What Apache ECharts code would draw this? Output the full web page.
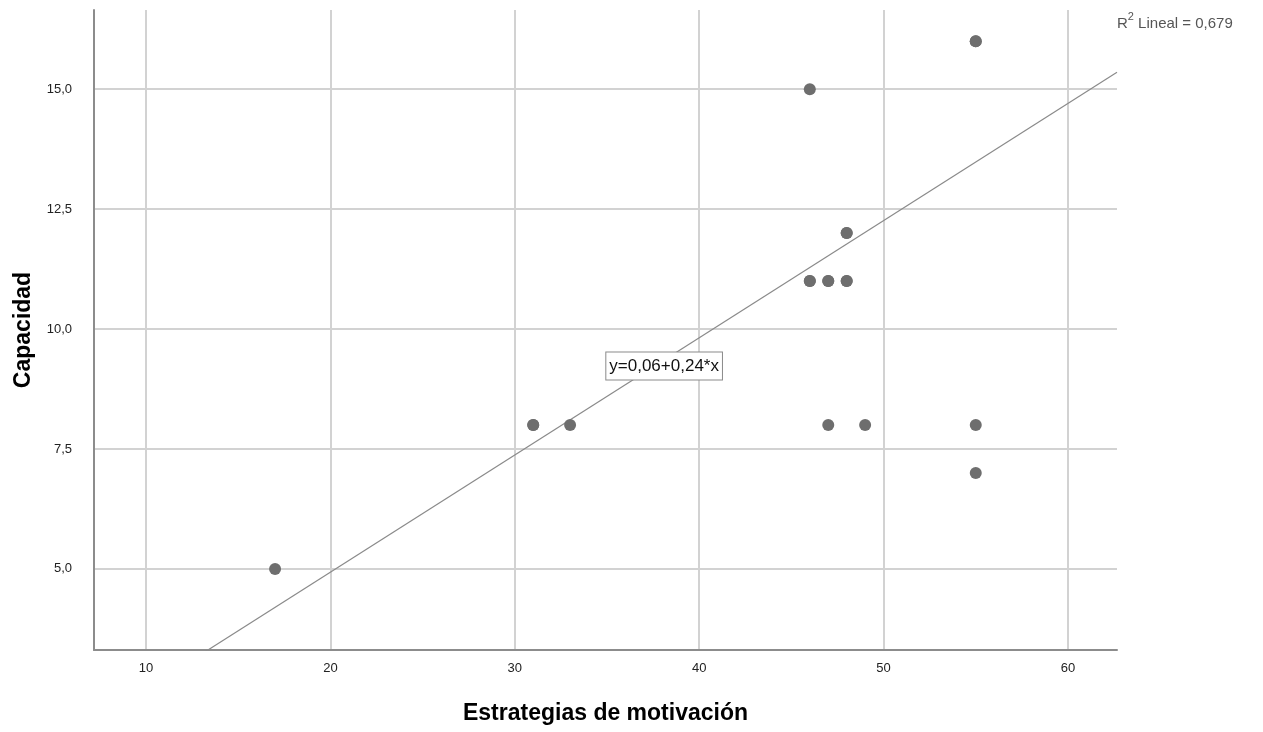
<!DOCTYPE html>
<html>
<head>
<meta charset="utf-8">
<script src="https://cdn.jsdelivr.net/npm/echarts@6/dist/echarts.min.js"></script>
<style>html,body{margin:0;padding:0;background:#fff;}#c{width:1263px;height:732px;}</style>
</head>
<body>
<div id="c"></div>
<script>
// Data
const xValues = [17, 31, 31, 33, 46, 46, 46, 47, 47, 47, 48, 48, 48, 48, 49, 55, 55, 55, 55];
const yValues = [5, 8, 8, 8, 15, 11, 11, 11, 11, 8, 11, 11, 12, 12, 8, 16, 16, 8, 7];
const fitIntercept = 0.046;
const fitSlope = 0.2443;
const fitLabel = 'y=0,06+0,24*x';
const fitLabelPos = [38.1, 9.23];
const r2Label = 'Lineal = 0,679';
const xTicks = [10, 20, 30, 40, 50, 60];
const yTicks = [5.0, 7.5, 10.0, 12.5, 15.0];
const xTitle = 'Estrategias de motivación';
const yTitle = 'Capacidad';

const xMin = 7.18, xMax = 62.66, yMin = 3.31, yMax = 16.65;
const points = xValues.map((x, i) => [x, yValues[i]]);
const fitLine = [[xMin, fitIntercept + fitSlope * xMin], [xMax, fitIntercept + fitSlope * xMax]];

const chart = echarts.init(document.getElementById('c'), null, {renderer: 'canvas'});
const fmt = v => String(v.toFixed(1)).replace('.', ',');
chart.setOption({
  animation: false,
  backgroundColor: '#ffffff',
  grid: {left: 94, right: 146, top: 10, bottom: 82, containLabel: false},
  xAxis: {
    type: 'value', min: xMin, max: xMax,
    name: xTitle, nameLocation: 'middle', nameGap: 52,
    nameTextStyle: {fontFamily: 'Liberation Sans, Arial', fontSize: 23, fontWeight: 'bold', color: '#000'},
    axisLine: {show: true, onZero: false, lineStyle: {color: '#8c8c8c', width: 2}},
    axisTick: {show: false, customValues: xTicks},
    axisLabel: {
      fontFamily: 'Liberation Sans, Arial', fontSize: 13, color: '#222', margin: 12,
      customValues: xTicks, formatter: v => String(v)
    },
    splitLine: {show: true, lineStyle: {color: '#d2d2d2', width: 2}}
  },
  yAxis: {
    type: 'value', min: yMin, max: yMax,
    name: yTitle, nameLocation: 'middle', nameGap: 59, nameRotate: 90,
    nameTextStyle: {fontFamily: 'Liberation Sans, Arial', fontSize: 23, fontWeight: 'bold', color: '#000'},
    axisLine: {show: true, onZero: false, lineStyle: {color: '#8c8c8c', width: 2}},
    axisTick: {show: false, customValues: yTicks},
    axisLabel: {
      fontFamily: 'Liberation Sans, Arial', fontSize: 13, color: '#222', margin: 22,
      customValues: yTicks, formatter: v => fmt(v)
    },
    splitLine: {show: true, lineStyle: {color: '#d2d2d2', width: 2}}
  },
  series: [
    {
      type: 'line', data: fitLine, symbol: 'none', clip: true, silent: true,
      lineStyle: {color: '#8a8a8a', width: 1.2},
      markPoint: {
        symbol: 'rect', symbolSize: 1, itemStyle: {color: 'transparent'},
        data: [{coord: fitLabelPos}],
        label: {
          show: true, formatter: fitLabel, position: 'inside',
          fontFamily: 'Liberation Sans, Arial', fontSize: 17, color: '#111',
          lineHeight: 20,
          backgroundColor: '#fff', borderColor: '#8a8a8a', borderWidth: 1,
          padding: [4, 3, 3, 3]
        }
      },
      z: 2
    },
    {
      type: 'scatter', data: points, symbol: 'circle', symbolSize: 12,
      itemStyle: {color: '#6e6e6e', opacity: 1}, z: 3
    }
  ],
  graphic: [{
    type: 'text', left: 1117, top: 11,
    style: {
      text: '{b|R}{s|2}{b| ' + r2Label + '}',
      rich: {
        b: {fontFamily: 'Liberation Sans, Arial', fontSize: 15, fill: '#555', color: '#555', verticalAlign: 'bottom', lineHeight: 20},
        s: {fontFamily: 'Liberation Sans, Arial', fontSize: 11, fill: '#555', color: '#555', verticalAlign: 'top', lineHeight: 20, padding: [0, 0, 6, 0]}
      }
    }
  }]
});
</script>
</body>
</html>
